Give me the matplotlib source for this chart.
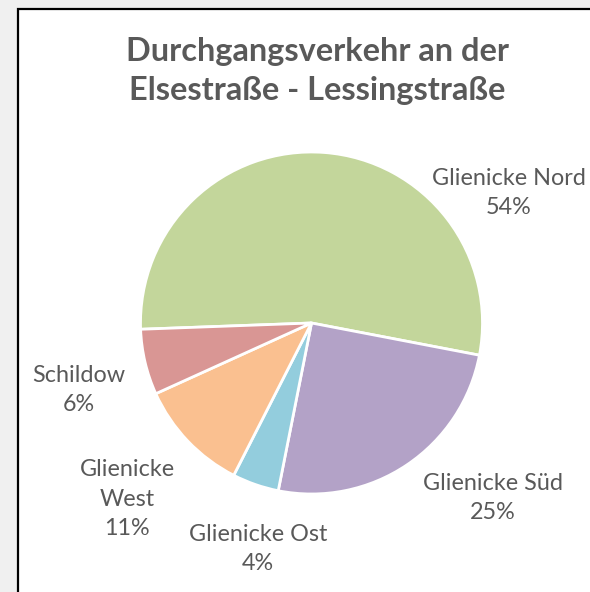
import matplotlib.pyplot as plt
from matplotlib.patches import Rectangle

# data (shares, labels show rounded %)
categories = ['Glienicke Nord', 'Glienicke Süd', 'Glienicke Ost', 'Glienicke\nWest', 'Schildow']
shares = [53.6, 25.1, 4.4, 10.7, 6.2]
colors = ['#c3d69b', '#b3a2c7', '#93cddd', '#fac090', '#d99694']
title = 'Durchgangsverkehr an der\nElsestraße - Lessingstraße'

W, H = 590, 592
# label centres in pixels (layout only)
label_px = [(509, 193), (493, 498), (258, 549), (127, 499), (79, 390)]

plt.rcParams['font.family'] = ['Lato', 'DejaVu Sans']

fig = plt.figure(figsize=(W / 100, H / 100), dpi=100)
fig.patch.set_facecolor('#f0f0f0')

# white chart box with black frame (cropped at right/bottom)
fig.patches.append(Rectangle((18 / W, -0.1), 1.2, 1.1 - 9 / H, transform=fig.transFigure,
                             facecolor='white', edgecolor='black', linewidth=1.6, zorder=0))

cx, cy, R = 311.5, 323, 171
ax = fig.add_axes([(cx - R) / W, (H - cy - R) / H, 2 * R / W, 2 * R / H])
ax.set_zorder(2)
ax.pie(shares, colors=colors, startangle=182.1, counterclock=False, radius=1,
       wedgeprops=dict(edgecolor='white', linewidth=2))
ax.set_xlim(-1, 1)
ax.set_ylim(-1, 1)
ax.axis('off')

fig.text(317 / W, 1 - 71 / H, title, ha='center', va='center', fontsize=23.4,
         fontweight='bold', color='#595959', linespacing=1.42, zorder=3)

for name, val, (x, y) in zip(categories, shares, label_px):
    fig.text(x / W, 1 - y / H, f'{name}\n{val:.0f}%', ha='center', va='center',
             fontsize=16.8, color='#595959', linespacing=1.5, zorder=3)

fig.savefig('out.png', dpi=100, facecolor=fig.get_facecolor())
